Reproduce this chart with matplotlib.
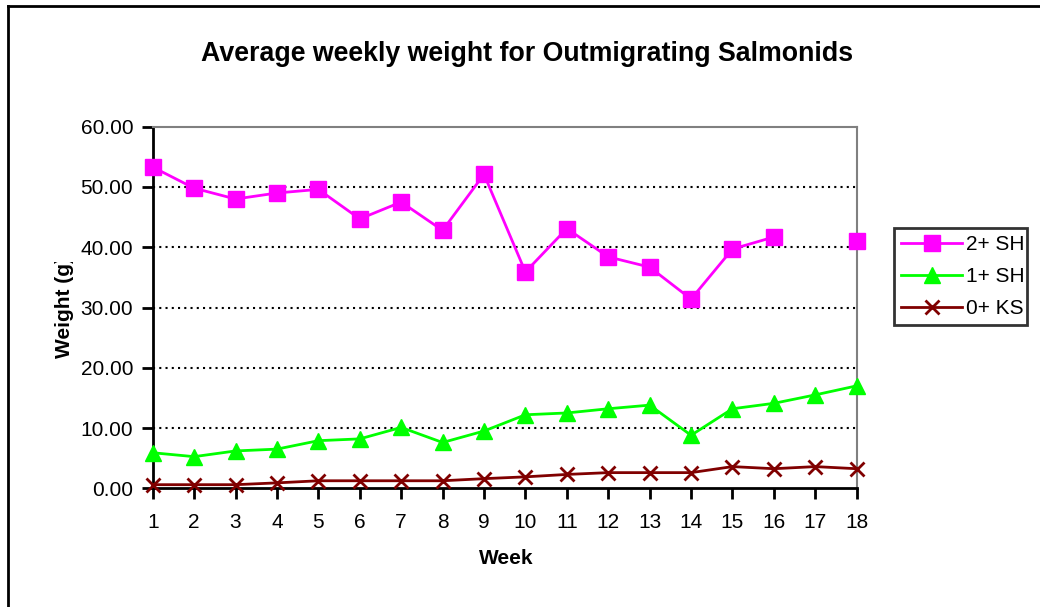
import matplotlib
matplotlib.use("Agg")
import matplotlib.pyplot as plt
import numpy as np
from matplotlib.lines import Line2D
from matplotlib.transforms import Bbox, TransformedBbox

weeks = list(range(1, 19))
sh2 = [53.3, 49.8, 48.0, 49.0, 49.6, 44.7, 47.5, 42.8, 52.1, 35.9, 43.1, 38.4, 36.7, 31.4, 39.7, 41.7, np.nan, 41.1]
sh1 = [5.9, 5.25, 6.2, 6.5, 7.9, 8.2, 10.1, 7.6, 9.5, 12.2, 12.5, 13.2, 13.8, 8.8, 13.2, 14.1, 15.5, 17.0]
ks0 = [0.6, 0.6, 0.6, 0.9, 1.25, 1.25, 1.25, 1.25, 1.6, 1.9, 2.3, 2.6, 2.6, 2.6, 3.6, 3.25, 3.6, 3.25]
series_names = ["2+ SH", "1+ SH", "0+ KS"]
yticks = [0, 10, 20, 30, 40, 50, 60]

plt.rcParams['font.family'] = ['Liberation Sans', 'DejaVu Sans']

W, H = 1040, 607
fig = plt.figure(figsize=(W / 100, H / 100), dpi=100)
L, R, T, B = 152.7, 856.7, 126.7, 488.3
ax = fig.add_axes([L / W, 1 - B / H, (R - L) / W, (B - T) / H])

ax.plot(weeks, sh2, color='#FF00FF', lw=2, marker='s', ms=11, mec='#FF00FF', mfc='#FF00FF', label=series_names[0], clip_on=False, zorder=5)
ax.plot(weeks, sh1, color='#00FF00', lw=2, marker='^', ms=11.5, mec='#00FF00', mfc='#00FF00', label=series_names[1], clip_on=False, zorder=4)
ax.plot(weeks, ks0, color='#800000', lw=2, marker='x', ms=10, mew=2, label=series_names[2], clip_on=False, zorder=6)

ax.set_xlim(1, 18)
ax.set_ylim(0, 60)
ax.set_xticks(weeks)
ax.set_xticklabels([str(w) for w in weeks], fontsize=15)
ax.set_yticks(yticks)
ax.set_yticklabels([f"{v:.2f}" for v in yticks], fontsize=15)
ax.tick_params(axis='both', direction='out', length=8, width=2, color='black', pad=6)
ax.tick_params(axis='x', pad=10)
for y in yticks[1:-1]:
    ax.axhline(y, color='black', lw=1.5, ls=(0, (1, 2)), zorder=1)
ax.spines['left'].set_color('black')
ax.spines['left'].set_linewidth(2)
ax.spines['bottom'].set_color('black')
ax.spines['bottom'].set_linewidth(2)
ax.spines['top'].set_color('#808080')
ax.spines['top'].set_linewidth(1.5)
ax.spines['right'].set_color('#808080')
ax.spines['right'].set_linewidth(1.5)

fig.text(0.5 * (200 + 855) / W, 1 - 54 / H, "Average weekly weight for Outmigrating Salmonids",
         ha='center', va='center', fontsize=19.3, fontweight='bold')
fig.text(506 / W, 1 - 558 / H, "Week", ha='center', va='center', fontsize=15, fontweight='bold')
yl = fig.text(64 / W, 1 - 307 / H, "Weight (g)", ha='center', va='center', rotation=90,
              fontsize=15, fontweight='bold')
yl.set_clip_box(TransformedBbox(Bbox([[0, 0], [1, 1 - 262 / H]]), fig.transFigure))
yl.set_clip_on(True)

# legend
lx0, ly0, lx1, ly1 = 894, 228, 1027, 328
leg = fig.legend(loc='upper left', bbox_to_anchor=(lx0 / W, 1 - ly1 / H, (lx1 - lx0) / W, (ly1 - ly0) / H),
                 mode='expand', fontsize=15, frameon=True, fancybox=False, edgecolor='black',
                 handlelength=2.9, borderaxespad=0, borderpad=0.35, labelspacing=0.62, handletextpad=0.2,
                 markerscale=1.0)
leg.get_frame().set_linewidth(2)

# outer border (top and left visible)
fig.add_artist(Line2D([8 / W, 8 / W], [0, 1 - 6 / H], transform=fig.transFigure, color='black', lw=2))
fig.add_artist(Line2D([8 / W, 1], [1 - 6 / H, 1 - 6 / H], transform=fig.transFigure, color='black', lw=2))

fig.savefig("out.png", dpi=100)
